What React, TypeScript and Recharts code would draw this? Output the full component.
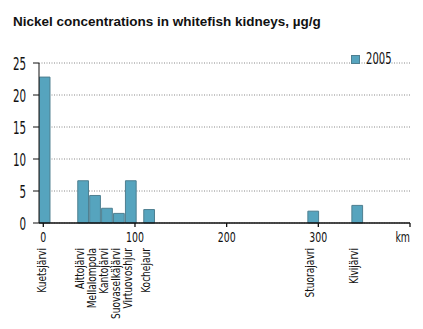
import React from "react"
import { BarChart, Bar, XAxis, YAxis, CartesianGrid, Legend, LabelList } from "recharts"

const lakes = [
  "Kuetsjärvi",
  "Aittojärvi",
  "Mellalompola",
  "Kantojärvi",
  "Suovaselkäjärvi",
  "Virtuovoshjur",
  "Kochejaur",
  "Stuorajavri",
  "Kivijärvi",
]
const distanceKm = [1, 43, 56, 69, 82, 95, 115, 294, 342]
const nickel2005 = [22.8, 6.6, 4.3, 2.3, 1.5, 6.6, 2.1, 1.85, 2.75]
const xTicks = [0, 100, 200, 300, 400]
const yTicks = [0, 5, 10, 15, 20, 25]

const data = lakes.map((name, i) => ({ name, km: distanceKm[i], value: nickel2005[i] }))

// no condensed sans like the original's, so squeeze DejaVu Condensed a bit more
const narrow = "'DejaVu Sans Condensed', 'DejaVu Sans', sans-serif"
const barFill = "#56a4be"
const barStroke = "#4e7f90"

const XTick = ({ x, y, payload }: any) => {
  const last = payload.value === 400
  return (
    <text
      transform={`translate(${x},${y}) scale(0.72,1)`}
      dy="0.71em"
      textAnchor={last ? "end" : "middle"}
      fontFamily={narrow}
      fontSize={14.5}
      fill="#111"
    >
      {last ? "km" : payload.value}
    </text>
  )
}

const YTick = ({ x, y, payload }: any) => (
  <text
    transform={`translate(${x},${y}) scale(0.62,1)`}
    dy="0.36em"
    textAnchor="end"
    fontFamily={narrow}
    fontSize={18.5}
    fill="#111"
  >
    {payload.value}
  </text>
)

const LakeLabel = ({ x, y, width, height, value }: any) => {
  const cx = x + width / 2 + 1
  const top = y + height + 25
  return (
    <text
      transform={`translate(${cx},${top}) rotate(-90) scale(0.84,1)`}
      textAnchor="end"
      fontFamily={narrow}
      fontSize={12}
      fill="#111"
    >
      {value}
    </text>
  )
}

const LegendBox = () => (
  <div style={{ display: "flex", alignItems: "center", fontFamily: narrow, fontSize: 15.5, color: "#111" }}>
    <span style={{ width: 9, height: 9, background: barFill, border: `1px solid ${barStroke}`, marginRight: 6, boxSizing: "border-box" }} />
    <span style={{ display: "inline-block", transform: "scaleX(0.72)", transformOrigin: "left center" }}>2005</span>
  </div>
)

export default function App() {
  return (
    <div style={{ position: "absolute", left: 0, top: 0, width: 423, height: 329, background: "#fff" }}>
      <div
        style={{
          position: "absolute",
          left: 13,
          top: 14,
          fontFamily: "'Liberation Sans', Arial, sans-serif",
          fontWeight: "bold",
          fontSize: 13.5,
          lineHeight: "15px",
          color: "#111",
          whiteSpace: "nowrap",
        }}
      >
        Nickel concentrations in whitefish kidneys, µg/g
      </div>
      <BarChart
        width={423}
        height={329}
        data={data}
        margin={{ top: 45, right: 13, left: 0, bottom: 76 }}
      >
        <CartesianGrid vertical={false} stroke="#888" strokeDasharray="1 1.5" />
        <XAxis
          type="number"
          dataKey="km"
          domain={[-4.7, 400]}
          ticks={xTicks}
          allowDataOverflow
          height={30}
          tickSize={4}
          tickMargin={5}
          stroke="#111"
          strokeWidth={1.3}
          tick={<XTick />}
        />
        <YAxis
          type="number"
          domain={[0, 25]}
          ticks={yTicks}
          width={39}
          tickSize={6}
          tickMargin={7}
          stroke="#111"
          tick={<YTick />}
        />
        <Legend
          verticalAlign="top"
          align="right"
          wrapperStyle={{ position: "absolute", top: 50, left: 351, width: 60 }}
          content={<LegendBox />}
        />
        <Bar dataKey="value" name="2005" barSize={12} fill={barFill} stroke={barStroke} strokeWidth={1} isAnimationActive={false}>
          <LabelList dataKey="name" content={<LakeLabel />} />
        </Bar>
      </BarChart>
    </div>
  )
}
